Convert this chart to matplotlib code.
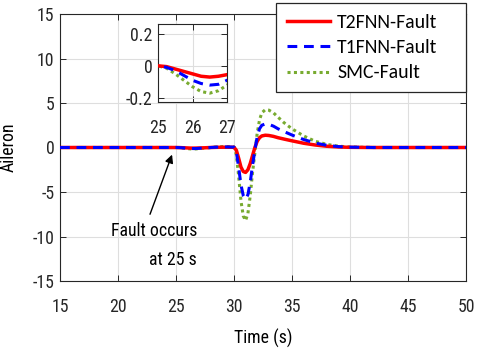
import matplotlib
matplotlib.use("Agg")
import matplotlib.pyplot as plt

# ---- data ----
time = [15, 25, 25.25, 25.5, 25.75, 26, 26.25, 26.5, 26.75, 27, 27.5, 28, 28.5, 29, 29.5, 30,
        30.2, 30.4, 30.6, 30.8, 31.0, 31.2, 31.4, 31.6, 31.8, 32.0, 32.2, 32.4, 32.7, 33.0,
        33.4, 33.8, 34.3, 35, 36, 37, 38, 39, 40, 42, 50]
t2fnn = [0, 0, -0.005, -0.02, -0.035, -0.05, -0.065, -0.07, -0.065, -0.055, -0.03, 0, 0.02, 0.03, 0.03, 0.02,
         -0.3, -1.2, -2.2, -2.7, -2.8, -2.5, -1.8, -0.9, 0, 0.7, 1.1, 1.3, 1.38, 1.35,
         1.25, 1.1, 0.95, 0.75, 0.48, 0.28, 0.14, 0.06, 0.02, 0, 0]
t1fnn = [0, 0, -0.01, -0.03, -0.06, -0.09, -0.11, -0.12, -0.115, -0.09, -0.05, 0, 0.04, 0.06, 0.06, 0.04,
         -0.5, -2.2, -4.2, -5.4, -5.8, -5.3, -3.9, -2.0, -0.3, 1.2, 2.1, 2.5, 2.65, 2.6,
         2.4, 2.1, 1.8, 1.4, 0.9, 0.5, 0.25, 0.1, 0.04, 0, 0]
smc = [0, 0, -0.015, -0.05, -0.09, -0.13, -0.16, -0.17, -0.155, -0.12, -0.06, 0, 0.06, 0.1, 0.1, 0.07,
       -0.8, -3.2, -6.0, -7.7, -8.2, -7.4, -5.4, -2.8, -0.6, 1.6, 3.1, 3.9, 4.25, 4.2,
       3.9, 3.4, 2.8, 2.1, 1.3, 0.7, 0.35, 0.15, 0.06, 0, 0]
labels = ["T2FNN-Fault", "T1FNN-Fault", "SMC-Fault"]
xticks = [15, 20, 25, 30, 35, 40, 45, 50]
yticks = [-15, -10, -5, 0, 5, 10, 15]
inset_xticks = [25, 26, 27]
inset_yticks = [-0.2, 0, 0.2]

RED = (1, 0, 0)
BLUE = (0, 0, 1)
GREEN = (0.47, 0.67, 0.19)
FONT = ['Roboto Condensed', 'Liberation Sans', 'DejaVu Sans']
FS = 12.8

plt.rcParams['font.family'] = FONT
plt.rcParams['axes.unicode_minus'] = False
W, H = 480, 348
fig = plt.figure(figsize=(W / 100, H / 100), dpi=100)
ax = fig.add_axes([60 / W, 1 - 281 / H, 406 / W, 267 / H])

def style(a, pad_x, pad_y):
    for s in a.spines.values():
        s.set_color('0.15')
        s.set_linewidth(0.8)
    a.tick_params(direction='in', top=True, right=True, length=4, width=0.7,
                  labelsize=FS, colors='0.15')
    a.tick_params(axis='x', pad=pad_x)
    a.tick_params(axis='y', pad=pad_y)
    a.grid(True, color='0.87', linewidth=0.8)
    a.set_axisbelow(True)

def draw(a):
    a.plot(time, smc, color=GREEN, linestyle=(0, (1, 1.1)), linewidth=2.2, label=labels[2], zorder=2)
    a.plot(time, t2fnn, color=RED, linestyle='-', linewidth=2.5, label=labels[0], zorder=3)
    a.plot(time, t1fnn, color=BLUE, linestyle=(0, (3.2, 2.2)), linewidth=2.2, label=labels[1], zorder=4)

draw(ax)
ax.set_xlim(15, 50)
ax.set_ylim(-15, 15)
ax.set_xticks(xticks)
ax.set_yticks(yticks)
style(ax, 12, 4)
ax.set_xlabel("Time (s)", fontsize=FS, va='top')
ax.xaxis.set_label_coords(0.5, -(329 - 281) / 267)
ax.set_ylabel("Aileron", fontsize=FS)
ax.yaxis.set_label_coords((18 - 60) / 406, 0.5)

ax.annotate("", xy=(24.66, -0.8), xytext=(22.76, -7.5),
            arrowprops=dict(arrowstyle='-|>', color='black', lw=1.0,
                            mutation_scale=12, shrinkA=0, shrinkB=0))
ax.text(26.8, -9.38, "Fault occurs", fontsize=FS, ha='right', va='center')
ax.text(26.8, -12.6, "at 25 s", fontsize=FS, ha='right', va='center')

# inset
ins = fig.add_axes([158 / W, 1 - 102 / H, 69 / W, 78 / H])
draw(ins)
ins.set_xlim(25, 27)
ins.set_ylim(-0.225, 0.26)
ins.set_xticks(inset_xticks)
ins.set_yticks(inset_yticks)
ins.set_yticklabels(["-0.2", "0", "0.2"])
style(ins, 12, 4)
ins.set_facecolor('white')

# legend
h, l = ax.get_legend_handles_labels()
order = [1, 2, 0]
leg = fig.legend([h[i] for i in order], [l[i] for i in order],
                 loc='upper left', bbox_to_anchor=(276 / W, 1 - 91 / H, 190 / W, 88 / H),
                 mode='expand',
                 prop={'family': ['Carlito', 'DejaVu Sans'], 'size': 14.2},
                 frameon=True, fancybox=False, edgecolor='0.15', framealpha=1,
                 borderpad=0.55, labelspacing=0.42, handlelength=2.2, handletextpad=0.35,
                 borderaxespad=0)
leg.get_frame().set_linewidth(0.9)

fig.savefig("out.png", dpi=100)
